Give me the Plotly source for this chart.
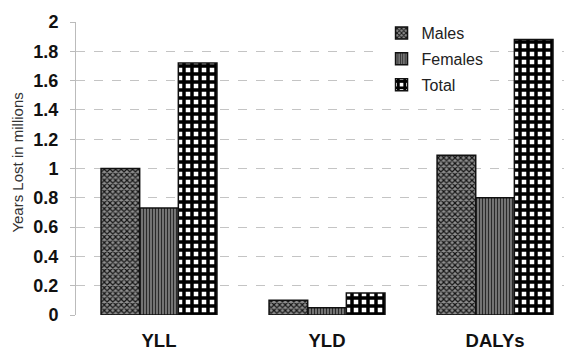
import plotly.graph_objects as go

categories = ["YLL", "YLD", "DALYs"]
males = [1.00, 0.10, 1.09]
females = [0.73, 0.05, 0.80]
total = [1.72, 0.15, 1.88]
y_ticks = [0, 0.2, 0.4, 0.6, 0.8, 1, 1.2, 1.4, 1.6, 1.8, 2]
y_tick_text = ["0", "0.2", "0.4", "0.6", "0.8", "1", "1.2", "1.4", "1.6", "1.8", "2"]

FONT = "Liberation Sans, Arial, sans-serif"

fig = go.Figure()
fig.add_trace(go.Bar(
    name="Males", x=categories, y=males, legendgroup="m",
    marker=dict(color="#555", line=dict(color="#111", width=1.5),
                pattern=dict(shape="x", fgcolor="#151515", bgcolor="#8e8e8e",
                             size=4, solidity=0.5, fillmode="replace")),
))
fig.add_trace(go.Bar(
    name="Females", x=categories, y=females, legendgroup="f",
    marker=dict(color="#666", line=dict(color="#111", width=1.5),
                pattern=dict(shape="|", fgcolor="#2a2a2a", bgcolor="#8c8c8c",
                             size=3, solidity=0.5, fillmode="replace")),
))
fig.add_trace(go.Bar(
    name="Total", x=categories, y=total, legendgroup="t",
    marker=dict(color="#000", line=dict(color="#111", width=1.5),
                pattern=dict(shape="+", fgcolor="#000", bgcolor="#fff",
                             size=8, solidity=0.68, fillmode="replace")),
))

# The page body adds an 8px margin, so the figure is sized/offset to compensate.
fig.update_layout(
    width=564, height=344,
    margin=dict(l=68, r=0, t=14, b=37),
    paper_bgcolor="white", plot_bgcolor="white",
    barmode="group", bargap=0.31, bargroupgap=0,
    font=dict(family=FONT, color="#222"),
    showlegend=True,
    legend=dict(x=0.616, y=1.02, xanchor="left", yanchor="top",
                bgcolor="white", font=dict(size=16, color="#222"),
                tracegroupgap=2, itemwidth=30),
    xaxis=dict(range=[-0.494, 2.458], showline=False, ticks="", automargin=False,
               tickfont=dict(size=18.5, color="#111", family=FONT, weight="bold"),
               ticklabelstandoff=12),
    yaxis=dict(range=[0, 2], tickvals=y_ticks, ticktext=y_tick_text, automargin=False,
               showgrid=True, gridcolor="#c4c4c4", griddash="dash", gridwidth=1,
               showline=True, linecolor="#bbbbbb", linewidth=1,
               ticks="outside", ticklen=5, tickcolor="#bbbbbb",
               tickfont=dict(size=18, color="#111", family=FONT, weight="bold"),
               ticklabelstandoff=8, zeroline=False),
    annotations=[dict(text="Years Lost in millions", textangle=-90,
                      xref="paper", yref="paper", x=-0.117, y=0.52,
                      xanchor="center", yanchor="middle", showarrow=False,
                      font=dict(size=15, color="#333"))],
)

fig.write_html("out.html")
